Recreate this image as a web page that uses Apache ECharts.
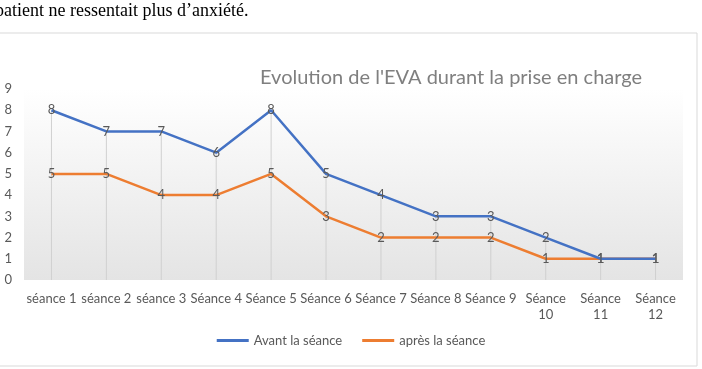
<!DOCTYPE html>
<html><head><meta charset="utf-8">
<script src="https://cdn.jsdelivr.net/npm/echarts@6/dist/echarts.min.js"></script>
<style>html,body{margin:0;padding:0;background:#fff;}#c{width:702px;height:369px;}</style>
</head><body><div id="c"></div>
<script>
const categories = ['séance 1','séance 2','séance 3','Séance 4','Séance 5','Séance 6','Séance 7','Séance 8','Séance 9','Séance 10','Séance 11','Séance 12'];
const avant = [8,7,7,6,8,5,4,3,3,2,1,1];
const apres = [5,5,4,4,5,3,2,2,2,1,1,1];
const yTicks = [0,1,2,3,4,5,6,7,8,9];
const titleText = "Evolution de l'EVA durant la prise en charge";
const headerText = "patient ne ressentait plus d’anxiété.";

const dropTops = avant.map((v, i) => Math.max(v, apres[i]));
const chart = echarts.init(document.getElementById('c'));
const font = 'Lato, "Open Sans", sans-serif';
const lbl = { show: true, position: 'inside', color: '#595959', fontSize: 13, fontFamily: font };
chart.setOption({
  animation: false,
  textStyle: { fontFamily: font },
  graphic: [
    { type: 'text', left: -5, top: 2, style: { text: headerText, font: '18px "Liberation Serif", serif', fill: '#000' } },
    { type: 'rect', shape: { x: -1, y: 33, width: 698, height: 333 }, style: { fill: 'none', stroke: '#d9d9d9', lineWidth: 1 }, z: -1 }
  ],
  title: { text: titleText, left: 255, top: 63, textStyle: { fontFamily: font, fontSize: 20, fontWeight: 'normal', color: '#7f7f7f' } },
  legend: {
    data: ['Avant la séance', 'après la séance'],
    bottom: 17, left: 'center', itemWidth: 32, itemHeight: 3, itemGap: 20, icon: 'rect',
    textStyle: { fontFamily: font, fontSize: 13, color: '#595959' }
  },
  grid: { left: 24, right: 19, top: 89, bottom: 89, show: true, borderWidth: 0,
    backgroundColor: { type: 'linear', x: 0, y: 0, x2: 0, y2: 1, colorStops: [{ offset: 0, color: '#ffffff' }, { offset: 1, color: '#e4e4e4' }] } },
  xAxis: {
    type: 'category', data: categories, boundaryGap: true,
    axisLine: { show: false }, axisTick: { show: false },
    axisLabel: { interval: 0, color: '#595959', fontSize: 13, margin: 11, lineHeight: 16,
      formatter: v => v.length > 8 ? v.replace(' ', '\n') : v }
  },
  yAxis: {
    type: 'value', min: yTicks[0], max: yTicks[yTicks.length - 1], interval: 1,
    axisLine: { show: false }, axisTick: { show: false }, splitLine: { show: false },
    axisLabel: { color: '#595959', fontSize: 13, margin: 12 }
  },
  series: [
    { name: 'drop', type: 'bar', data: dropTops, barWidth: 1, itemStyle: { color: '#d0d0d0' }, silent: true, z: 1 },
    { name: 'Avant la séance', type: 'line', data: avant, symbol: 'circle', symbolSize: 0.01, showSymbol: true, lineStyle: { color: '#4472C4', width: 2.5 }, itemStyle: { color: '#4472C4' }, z: 3, label: lbl },
    { name: 'après la séance', type: 'line', data: apres, symbol: 'circle', symbolSize: 0.01, showSymbol: true, lineStyle: { color: '#ED7D31', width: 2.5 }, itemStyle: { color: '#ED7D31' }, z: 2, label: lbl }
  ]
});
</script></body></html>
